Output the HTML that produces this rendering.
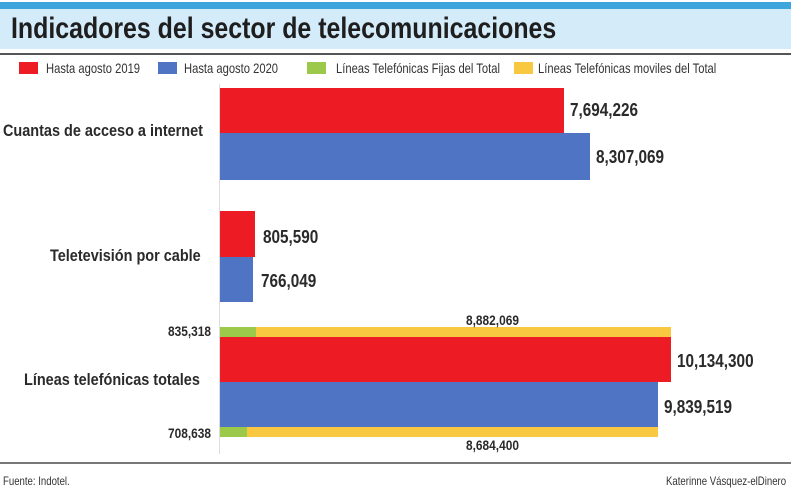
<!DOCTYPE html>
<html><head><meta charset="utf-8"><style>
body{margin:0;width:791px;height:494px;background:#fff;position:relative;overflow:hidden;font-family:"Liberation Sans",sans-serif}
.a{position:absolute}
.t{font-family:"Liberation Sans",sans-serif;font-weight:bold;color:#2a2a2a;transform:scaleX(.85);transform-origin:left center;white-space:nowrap}
.lg{font-size:14px;color:#333;transform:scaleX(.8);transform-origin:left center;white-space:nowrap}
</style></head><body>
<div class="a" style="left:0;top:2px;width:791px;height:7px;background:#3ea6dd"></div>
<div class="a" style="left:0;top:9px;width:791px;height:40px;background:#d4ebf9"></div>
<div class="a t" style="left:11px;top:9px;font-size:30px;line-height:40px;color:#1e1e1e;transform:scaleX(.83)">Indicadores del sector de telecomunicaciones</div>
<div class="a" style="left:0;top:53px;width:791px;height:2px;background:#555"></div>
<div class="a" style="left:19px;top:62px;width:19px;height:12px;background:#ed1c24"></div>
<div class="a lg" style="left:46px;top:60px">Hasta agosto 2019</div>
<div class="a" style="left:158px;top:62px;width:19px;height:12px;background:#4f74c4"></div>
<div class="a lg" style="left:184px;top:60px">Hasta agosto 2020</div>
<div class="a" style="left:307px;top:62px;width:19px;height:12px;background:#9cc94a"></div>
<div class="a lg" style="left:336px;top:60px">Líneas Telefónicas Fijas del Total</div>
<div class="a" style="left:514px;top:62px;width:19px;height:12px;background:#f8c940"></div>
<div class="a lg" style="left:538px;top:60px">Líneas Telefónicas moviles del Total</div>
<div class="a" style="left:219px;top:84px;width:1px;height:370px;background:#ddd"></div>

<div class="a" style="left:220px;top:88px;width:344px;height:45px;background:#ed1c24"></div>
<div class="a" style="left:220px;top:133px;width:370px;height:47px;background:#4f74c4"></div>
<div class="a t" style="left:570px;top:100px;font-size:18px">7,694,226</div>
<div class="a t" style="left:596px;top:147px;font-size:18px">8,307,069</div>
<div class="a t" style="left:3px;top:121px;font-size:17px">Cuantas de acceso a internet</div>

<div class="a" style="left:220px;top:211px;width:35px;height:46px;background:#ed1c24"></div>
<div class="a" style="left:220px;top:257px;width:33px;height:45px;background:#4f74c4"></div>
<div class="a t" style="left:263px;top:227px;font-size:18px">805,590</div>
<div class="a t" style="left:261px;top:271px;font-size:18px">766,049</div>
<div class="a t" style="left:50px;top:246px;font-size:17px">Teletevisión por cable</div>

<div class="a" style="left:220px;top:327px;width:36px;height:10px;background:#9cc94a"></div>
<div class="a" style="left:256px;top:327px;width:415px;height:10px;background:#f8c940"></div>
<div class="a" style="left:220px;top:337px;width:451px;height:45px;background:#ed1c24"></div>
<div class="a" style="left:220px;top:382px;width:438px;height:45px;background:#4f74c4"></div>
<div class="a" style="left:220px;top:427px;width:27px;height:10px;background:#9cc94a"></div>
<div class="a" style="left:247px;top:427px;width:411px;height:10px;background:#f8c940"></div>
<div class="a t" style="left:168px;top:323px;font-size:14px">835,318</div>
<div class="a t" style="left:168px;top:425px;font-size:14px">708,638</div>
<div class="a t" style="left:466px;top:312px;font-size:14px">8,882,069</div>
<div class="a t" style="left:466px;top:437px;font-size:14px">8,684,400</div>
<div class="a t" style="left:677px;top:351px;font-size:18px">10,134,300</div>
<div class="a t" style="left:664px;top:397px;font-size:18px">9,839,519</div>
<div class="a t" style="left:24px;top:370px;font-size:17px">Líneas telefónicas totales</div>

<div class="a" style="left:0;top:462px;width:791px;height:2px;background:#777"></div>
<div class="a lg" style="left:3px;top:474px;font-size:12px">Fuente: Indotel.</div>
<div class="a lg" style="left:666px;top:474px;font-size:12px">Katerinne Vásquez-elDinero</div>
</body></html>
